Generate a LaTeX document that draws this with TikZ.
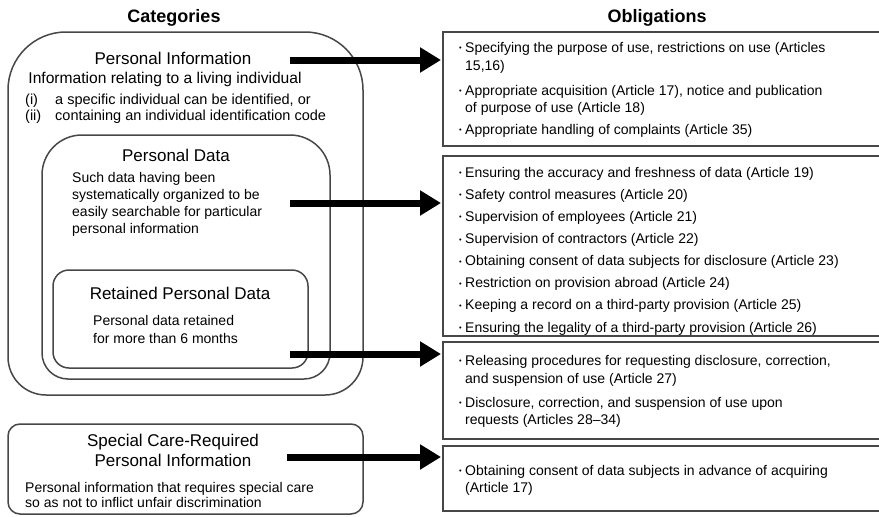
\documentclass[tikz,border=0pt]{standalone}
\usepackage{fontspec}
\setmainfont{Liberation Sans}
\usetikzlibrary{arrows.meta}
\newcommand{\bul}{\llap{\raisebox{1.1pt}{\fontsize{7.5}{7.5}\selectfont •}\hspace{3.5pt}}}
\begin{document}
\begin{tikzpicture}[x=1pt,y=-1pt,
  hdr/.style={font=\fontsize{18}{20}\selectfont\bfseries, anchor=base, inner sep=0},
  ttl/.style={font=\fontsize{17}{20}\selectfont, anchor=base, inner sep=0},
  sub/.style={font=\fontsize{15.6}{18}\selectfont, anchor=base, inner sep=0},
  itm/.style={font=\fontsize{14.5}{17}\selectfont, anchor=base west, inner sep=0},
  bod/.style={font=\fontsize{14}{17}\selectfont, anchor=base west, inner sep=0},
  obl/.style={font=\fontsize{14}{17}\selectfont, anchor=base west, inner sep=0},
  cat/.style={draw=black!72, line width=1.5pt},
  oblbox/.style={draw=black!72, line width=1.6pt},
  bigarrow/.style={line width=7pt, -{Triangle[length=21pt,width=24pt]}}]
\useasboundingbox (0,0) rectangle (879,517);
\clip (0,0) rectangle (879,517);
\fill[white] (0,0) rectangle (879,517);

% headers
\node[hdr] (hcat) at (174,22.5) {Categories};
\node[hdr] (hobl) at (657,22.5) {Obligations};

% category boxes
\draw[cat] (8,200) [rounded corners=58pt] -- (8,32) -- (363,32) -- (363,200)
  [rounded corners=38pt] -- (363,395) -- (8,395) -- cycle;
\draw[cat] (42,250) [rounded corners=40pt] -- (42,135) -- (330,135) -- (330,250)
  [rounded corners=26pt] -- (330,379) -- (42,379) -- cycle;
\draw[cat, rounded corners=16pt] (53,270) rectangle (308,368);
\draw[cat, rounded corners=12pt] (8,424) rectangle (363,514);

% obligation boxes
\draw[oblbox] (443,32) rectangle (895,146);
\draw[oblbox] (443,156) rectangle (895,336);
\draw[oblbox] (443,342) rectangle (895,439);
\draw[oblbox] (443,446) rectangle (895,511);

% category texts
\node[ttl] (piT) at (173,64) {Personal Information};
\node[sub] (piS) at (165,83.5) {Information relating to a living individual};
\node[itm] (pi1a) at (25,104) {(i)};
\node[itm] (pi1b) at (55,104) {a specific individual can be identified, or};
\node[itm] (pi2a) at (25,120) {(ii)};
\node[itm] (pi2b) at (55,120) {containing an individual identification code};

\node[ttl] (pdT) at (176,161) {Personal Data};
\node[bod] (pd1) at (72,182) {Such data having been};
\node[bod] (pd2) at (72,199) {systematically organized to be};
\node[bod] (pd3) at (72,216) {easily searchable for particular};
\node[bod] (pd4) at (72,233) {personal information};

\node[ttl] (rpT) at (180,299) {Retained Personal Data};
\node[bod] (rp1) at (93,325) {Personal data retained};
\node[bod] (rp2) at (93,343) {for more than 6 months};

\node[ttl] (scT1) at (173,446) {Special Care-Required};
\node[ttl] (scT2) at (173,466) {Personal Information};
\node[bod] (sc1) at (25,492) {Personal information that requires special care};
\node[bod] (sc2) at (25,507) {so as not to inflict unfair discrimination};

% obligation texts
\node[obl] (o1) at (465,52) {\bul Specifying the purpose of use, restrictions on use (Articles};
\node[obl] (o1b) at (465,70) {15,16)};
\node[obl] (o2) at (465,95) {\bul Appropriate acquisition (Article 17), notice and publication};
\node[obl] (o2b) at (465,112) {of purpose of use (Article 18)};
\node[obl] (o3) at (465,134) {\bul Appropriate handling of complaints (Article 35)};

\node[obl] (o4) at (465,177) {\bul Ensuring the accuracy and freshness of data (Article 19)};
\node[obl] (o5) at (465,199) {\bul Safety control measures (Article 20)};
\node[obl] (o6) at (465,221) {\bul Supervision of employees (Article 21)};
\node[obl] (o7) at (465,243.5) {\bul Supervision of contractors (Article 22)};
\node[obl] (o8) at (465,265.5) {\bul Obtaining consent of data subjects for disclosure (Article 23)};
\node[obl] (o9) at (465,287.7) {\bul Restriction on provision abroad (Article 24)};
\node[obl] (o10) at (465,309.8) {\bul Keeping a record on a third-party provision (Article 25)};
\node[obl] (o11) at (465,332) {\bul Ensuring the legality of a third-party provision (Article 26)};

\node[obl] (o12) at (465,365) {\bul Releasing procedures for requesting disclosure, correction,};
\node[obl] (o12b) at (465,383) {and suspension of use (Article 27)};
\node[obl] (o13) at (465,407) {\bul Disclosure, correction, and suspension of use upon};
\node[obl] (o13b) at (465,424) {requests (Articles 28--34)};

\node[obl] (o14) at (465,475) {\bul Obtaining consent of data subjects in advance of acquiring};
\node[obl] (o14b) at (465,492) {(Article 17)};

% arrows
\coordinate (a1s) at (290,60);  \coordinate (a1e) at (441,60);
\coordinate (a2s) at (290,203); \coordinate (a2e) at (441,203);
\coordinate (a3s) at (290,354); \coordinate (a3e) at (441,354);
\coordinate (a4s) at (287,457); \coordinate (a4e) at (441,457);
\draw[bigarrow] (a1s) -- (a1e);
\draw[bigarrow] (a2s) -- (a2e);
\draw[bigarrow] (a3s) -- (a3e);
\draw[bigarrow] (a4s) -- (a4e);
\end{tikzpicture}
\end{document}
